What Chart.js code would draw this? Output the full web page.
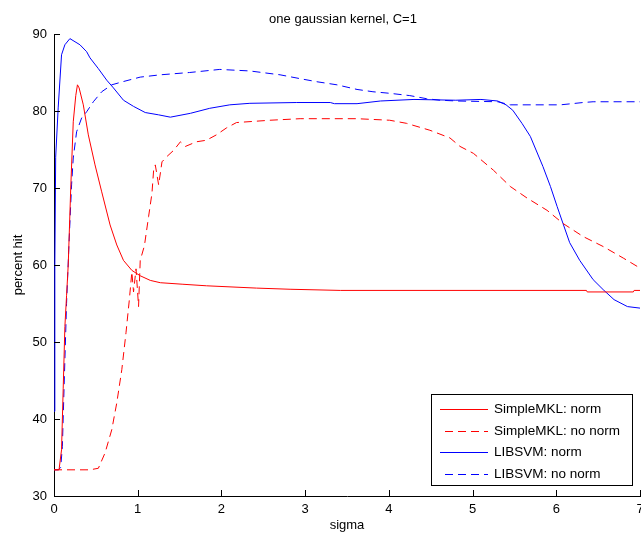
<!DOCTYPE html>
<html>
<head>
<meta charset="utf-8">
<title>one gaussian kernel, C=1</title>
<script src="https://cdn.jsdelivr.net/npm/chart.js@4/dist/chart.umd.min.js"></script>
<style>
  html, body { margin: 0; padding: 0; background: #fff; }
  #chart-wrap { width: 641px; height: 534px; position: relative; }
</style>
</head>
<body>
<div id="chart-wrap"><canvas id="kernel-chart"></canvas></div>
<script>
/* ============================================= */
/*                    Data                       */
/* ============================================= */
const chartTitle = "one gaussian kernel, C=1";
const xTitle = "sigma";
const yTitle = "percent hit";
const xTicks = [0, 1, 2, 3, 4, 5, 6, 7];
const yTicks = [30, 40, 50, 60, 70, 80, 90];

const mklNormSigma = [0, 0.06, 0.09, 0.11, 0.13, 0.15, 0.17, 0.2, 0.23, 0.26, 0.28, 0.3, 0.35, 0.41, 0.49, 0.57, 0.67, 0.75, 0.83, 0.93, 1.03, 1.15, 1.27, 1.54, 1.82, 2.42, 2.82, 3.42, 6.36, 6.37, 6.92, 6.93, 7.0];
const mklNormHit = [33.4, 33.4, 36, 44, 52, 56, 60, 70, 78.6, 82, 83.4, 83.0, 80.8, 76.9, 73.0, 69.5, 65.2, 62.6, 60.6, 59.3, 58.6, 58.0, 57.7, 57.5, 57.3, 57.0, 56.85, 56.7, 56.7, 56.5, 56.5, 56.7, 56.7];

const mklNoNormSigma = [0, 0.43, 0.53, 0.61, 0.69, 0.75, 0.81, 0.86, 0.9, 0.93, 0.95, 0.98, 1.01, 1.03, 1.08, 1.13, 1.17, 1.19, 1.21, 1.25, 1.29, 1.35, 1.43, 1.51, 1.57, 1.7, 1.82, 1.94, 2.06, 2.18, 2.58, 2.94, 3.62, 4.01, 4.21, 4.49, 4.73, 4.85, 5.01, 5.25, 5.45, 5.65, 5.89, 6.08, 6.32, 6.56, 6.8, 7.0];
const mklNoNormHit = [33.4, 33.4, 33.6, 35.6, 38.6, 42.1, 46.4, 51.2, 55.5, 59.1, 56.5, 59.5, 54.6, 60.6, 62.5, 66.3, 69.3, 72.3, 73.0, 70.4, 73.4, 74.1, 74.9, 76.0, 75.4, 76.0, 76.2, 76.9, 77.8, 78.5, 78.8, 79.0, 79.0, 78.8, 78.4, 77.5, 76.5, 75.4, 74.5, 72.3, 70.2, 68.7, 67.1, 65.4, 63.7, 62.4, 60.9, 59.6];

const svmNormSigma = [0, 0.01, 0.02, 0.05, 0.09, 0.13, 0.19, 0.31, 0.39, 0.43, 0.53, 0.63, 0.71, 0.83, 0.95, 1.09, 1.25, 1.39, 1.63, 1.86, 2.1, 2.34, 2.9, 3.3, 3.35, 3.62, 3.9, 4.3, 4.8, 5.1, 5.3, 5.4, 5.48, 5.59, 5.69, 5.84, 5.93, 6.01, 6.08, 6.16, 6.28, 6.44, 6.56, 6.69, 6.85, 7.0];
const svmNormHit = [41, 60, 74, 80.4, 87.3, 88.6, 89.4, 88.6, 87.7, 86.9, 85.5, 84.0, 83.0, 81.4, 80.6, 79.8, 79.5, 79.2, 79.7, 80.35, 80.8, 81.0, 81.1, 81.1, 80.95, 80.95, 81.3, 81.5, 81.4, 81.5, 81.3, 80.8, 80.1, 78.4, 76.7, 72.8, 70.2, 67.6, 65.4, 62.9, 60.6, 58.1, 56.8, 55.5, 54.6, 54.4];

const svmNoNormSigma = [0, 0.05, 0.08, 0.1, 0.12, 0.15, 0.18, 0.21, 0.23, 0.27, 0.33, 0.39, 0.47, 0.57, 0.69, 0.82, 1.03, 1.27, 1.62, 1.98, 2.34, 2.7, 2.94, 3.14, 3.38, 3.62, 3.81, 4.01, 4.25, 4.45, 4.61, 4.81, 5.3, 5.45, 6.05, 6.32, 6.44, 7.0];
const svmNoNormHit = [33.4, 33.4, 33.7, 36.4, 44, 55, 63, 70.4, 73.9, 77.3, 79.1, 79.9, 81.2, 82.5, 83.4, 83.8, 84.4, 84.7, 85.0, 85.4, 85.2, 84.7, 84.2, 83.8, 83.4, 82.8, 82.5, 82.3, 82.0, 81.6, 81.4, 81.3, 81.2, 80.8, 80.8, 81.1, 81.2, 81.2];

const FONT = "'Liberation Sans', Arial, Helvetica, sans-serif";

function toPoints(xs, ys) {
  return xs.map((x, i) => ({ x: x, y: ys[i] }));
}

/* ============================================= */
/*          MATLAB-ish axes, title, legend       */
/* ============================================= */
const matlabDecor = {
  id: "matlabDecor",
  afterDraw(chart) {
    const ctx = chart.ctx;
    const area = chart.chartArea;
    const xs = chart.scales.x;
    const ys = chart.scales.y;
    ctx.save();

    // inward tick marks
    ctx.strokeStyle = "#000";
    ctx.lineWidth = 1;
    ctx.beginPath();
    xs.ticks.forEach((t) => {
      const px = Math.round(xs.getPixelForValue(t.value)) + 0.5;
      ctx.moveTo(px, area.bottom);
      ctx.lineTo(px, area.bottom - 6);
    });
    ys.ticks.forEach((t) => {
      const py = Math.round(ys.getPixelForValue(t.value)) + 0.5;
      ctx.moveTo(area.left, py);
      ctx.lineTo(area.left + 6, py);
    });
    ctx.stroke();

    // title
    ctx.fillStyle = "#000";
    ctx.font = "13px " + FONT;
    ctx.textAlign = "center";
    ctx.textBaseline = "middle";
    ctx.fillText(chartTitle, (area.left + area.right) / 2 - 4, 19);

    // legend box inside the plot, bottom right
    const box = { left: 431.5, top: 394.5, width: 201, height: 91 };
    ctx.fillStyle = "#fff";
    ctx.fillRect(box.left, box.top, box.width, box.height);
    ctx.strokeStyle = "#000";
    ctx.strokeRect(box.left, box.top, box.width, box.height);

    ctx.font = "13.5px " + FONT;
    ctx.textAlign = "left";
    chart.data.datasets.forEach((ds, i) => {
      const rowY = Math.round(box.top + 14.5 + i * 21.7) + 0.5;
      ctx.strokeStyle = ds.borderColor;
      ctx.setLineDash(ds.borderDash || []);
      ctx.beginPath();
      ctx.moveTo(ds.borderDash ? 445 : 440, rowY);
      ctx.lineTo(488, rowY);
      ctx.stroke();
      ctx.setLineDash([]);
      ctx.fillStyle = "#000";
      ctx.fillText(ds.label, 494, rowY);
    });

    ctx.restore();
  },
};

/* ============================================= */
/*                    Chart                      */
/* ============================================= */
const kernelCanvas = document.querySelector("#kernel-chart");

const kernelChart = new Chart(kernelCanvas, {
  type: "line",
  data: {
    datasets: [
      {
        label: "SimpleMKL: norm",
        data: toPoints(mklNormSigma, mklNormHit),
        borderColor: "#ff0000",
      },
      {
        label: "SimpleMKL: no norm",
        data: toPoints(mklNoNormSigma, mklNoNormHit),
        borderColor: "#ff0000",
        borderDash: [8, 5],
      },
      {
        label: "LIBSVM: norm",
        data: toPoints(svmNormSigma, svmNormHit),
        borderColor: "#0000ff",
      },
      {
        label: "LIBSVM: no norm",
        data: toPoints(svmNoNormSigma, svmNoNormHit),
        borderColor: "#0000ff",
        borderDash: [8, 5],
      },
    ],
  },
  options: {
    responsive: true,
    maintainAspectRatio: false,
    animation: false,
    layout: {
      padding: { top: 34, right: 1, bottom: 0, left: 0 },
    },
    elements: {
      line: { borderWidth: 1, tension: 0, fill: false },
      point: { radius: 0, hoverRadius: 0 },
    },
    plugins: {
      legend: { display: false },
      title: { display: false },
      tooltip: { enabled: false },
    },
    scales: {
      x: {
        type: "linear",
        min: 0,
        max: 7,
        afterBuildTicks: (scale) => {
          scale.ticks = xTicks.map((v) => ({ value: v }));
        },
        afterFit: (scale) => {
          scale.height = 38;
          scale.paddingLeft = 0;
          scale.paddingRight = 0;
        },
        grid: { display: true, drawOnChartArea: false, drawTicks: false },
        border: { display: true, color: "#000", width: 1 },
        ticks: {
          color: "#000",
          padding: 6,
          maxRotation: 0,
          autoSkip: false,
          font: { family: FONT, size: 13 },
        },
        title: {
          display: true,
          text: xTitle,
          color: "#000",
          padding: { top: 0, bottom: 1 },
          font: { family: FONT, size: 13 },
        },
      },
      y: {
        min: 30,
        max: 90,
        afterBuildTicks: (scale) => {
          scale.ticks = yTicks.map((v) => ({ value: v }));
        },
        afterFit: (scale) => {
          scale.width = 54;
          scale.paddingTop = 0;
          scale.paddingBottom = 0;
        },
        grid: { display: true, drawOnChartArea: false, drawTicks: false },
        border: { display: true, color: "#000", width: 1 },
        ticks: {
          color: "#000",
          padding: 7,
          font: { family: FONT, size: 13 },
        },
        title: {
          display: true,
          text: yTitle,
          color: "#000",
          padding: { top: 11, bottom: 0 },
          font: { family: FONT, size: 13 },
        },
      },
    },
  },
  plugins: [matlabDecor],
});
</script>
</body>
</html>
